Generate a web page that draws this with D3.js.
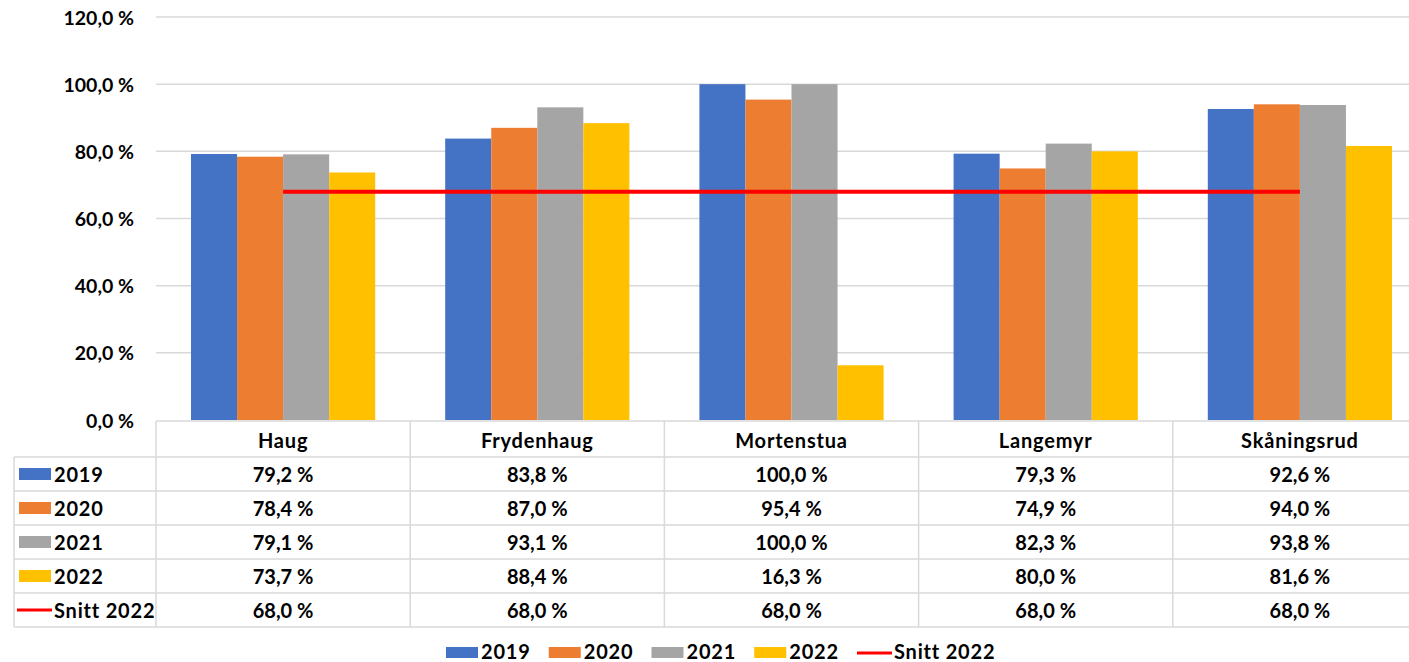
<!DOCTYPE html>
<html>
<head>
<meta charset="utf-8">
<script src="https://cdn.jsdelivr.net/npm/d3@7"></script>
<style>
  html, body { margin: 0; padding: 0; background: #fff; }
  svg text { font-family: Lato, "Open Sans", sans-serif; font-weight: 700; fill: #000; }
  svg text.word { letter-spacing: 0.8px; }
</style>
</head>
<body>
<div id="chart"></div>
<script>
var categories = ['Haug', 'Frydenhaug', 'Mortenstua', 'Langemyr', 'Skåningsrud']
var seriesNames = ['2019', '2020', '2021', '2022']
var values2019 = [79.2, 83.8, 100.0, 79.3, 92.6]
var values2020 = [78.4, 87.0, 95.4, 74.9, 94.0]
var values2021 = [79.1, 93.1, 100.0, 82.3, 93.8]
var values2022 = [73.7, 88.4, 16.3, 80.0, 81.6]
var snittName = 'Snitt 2022'
var snitt2022 = [68.0, 68.0, 68.0, 68.0, 68.0]
var yTicks = [0, 20, 40, 60, 80, 100, 120]

;(function() {
  var
    WIDTH = 1409,
    HEIGHT = 662,
    PLOT_LEFT = 156,
    PLOT_RIGHT = 1427,
    PLOT_TOP = 17,
    PLOT_BOTTOM = 420,
    TABLE_LEFT = 14,
    HEADER_H = 36,
    ROW_H = 34,
    FONT = 20,
    AXIS_FONT = 19.5,
    GRID = '#d9d9d9',
    colors = { '2019': '#4472C4', '2020': '#ED7D31', '2021': '#A5A5A5', '2022': '#FFC000' },
    RED = '#FF0000'

  var seriesValues = [values2019, values2020, values2021, values2022]
  var nb = d3.formatLocale({ decimal: ',', thousands: ' ', grouping: [3], currency: ['', ''] })
  var pct = function(v) { return nb.format('.1f')(v) + ' %' }

  var svg = d3.select('#chart').append('svg')
    .attr('width', WIDTH).attr('height', HEIGHT)

  var x = d3.scaleBand().domain(categories).range([PLOT_LEFT, PLOT_RIGHT])
  var x1 = d3.scaleBand().domain(seriesNames)
    .range([0, x.bandwidth()]).paddingOuter(0.76).paddingInner(0)
  var y = d3.scaleLinear().domain([0, 120]).range([PLOT_BOTTOM, PLOT_TOP])

  // gridlines + y labels
  var yAxis = svg.append('g')
  yAxis.selectAll('line').data(yTicks.slice(1)).enter().append('line')
    .attr('x1', PLOT_LEFT).attr('x2', WIDTH)
    .attr('y1', function(d) { return y(d) }).attr('y2', function(d) { return y(d) })
    .attr('stroke', GRID).attr('stroke-width', 1.5)
  yAxis.selectAll('text').data(yTicks).enter().append('text')
    .attr('x', 134).attr('y', function(d) { return y(d) })
    .attr('text-anchor', 'end').attr('dominant-baseline', 'central')
    .attr('font-size', AXIS_FONT)
    .text(pct)

  // bars
  var barG = svg.append('g')
  seriesNames.forEach(function(s, si) {
    barG.append('g').selectAll('rect')
      .data(seriesValues[si]).enter().append('rect')
      .attr('x', function(d, i) { return x(categories[i]) + x1(s) })
      .attr('width', x1.bandwidth())
      .attr('y', function(d) { return y(d) })
      .attr('height', function(d) { return y(0) - y(d) })
      .attr('fill', colors[s])
  })

  // snitt line
  var line = d3.line()
    .x(function(d, i) { return x(categories[i]) + x.bandwidth() / 2 })
    .y(function(d) { return y(d) })
  svg.append('path').datum(snitt2022)
    .attr('d', line).attr('fill', 'none')
    .attr('stroke', RED).attr('stroke-width', 4)

  // data table
  var table = svg.append('g')
  var rows = seriesNames.map(function(s, i) { return { name: s, values: seriesValues[i], key: 'rect' } })
  rows.push({ name: snittName, values: snitt2022, key: 'line' })
  var tableTop = PLOT_BOTTOM + 1
  var rowTop = function(i) { return tableTop + HEADER_H + i * ROW_H }
  var tableBottom = rowTop(rows.length)

  table.append('line')
    .attr('x1', PLOT_LEFT).attr('x2', WIDTH)
    .attr('y1', tableTop).attr('y2', tableTop)
    .attr('stroke', GRID).attr('stroke-width', 1.5)
  table.selectAll('.hline').data(d3.range(rows.length + 1)).enter().append('line')
    .attr('x1', TABLE_LEFT).attr('x2', WIDTH)
    .attr('y1', function(i) { return rowTop(i) }).attr('y2', function(i) { return rowTop(i) })
    .attr('stroke', GRID).attr('stroke-width', 1.5)
  table.selectAll('.vline').data(categories).enter().append('line')
    .attr('x1', function(d) { return x(d) }).attr('x2', function(d) { return x(d) })
    .attr('y1', tableTop).attr('y2', tableBottom)
    .attr('stroke', GRID).attr('stroke-width', 1.5)
  table.append('line')
    .attr('x1', TABLE_LEFT).attr('x2', TABLE_LEFT)
    .attr('y1', rowTop(0)).attr('y2', tableBottom)
    .attr('stroke', GRID).attr('stroke-width', 1.5)

  table.selectAll('.cat').data(categories).enter().append('text')
    .attr('class', 'word')
    .attr('x', function(d) { return x(d) + x.bandwidth() / 2 })
    .attr('y', tableTop + HEADER_H / 2 + 1)
    .attr('text-anchor', 'middle').attr('dominant-baseline', 'central')
    .attr('font-size', FONT)
    .text(function(d) { return d })

  rows.forEach(function(r, ri) {
    var cy = rowTop(ri) + ROW_H / 2
    if (r.key === 'rect') {
      table.append('rect').attr('x', 19).attr('y', cy - 6).attr('width', 32).attr('height', 12)
        .attr('fill', colors[r.name])
    } else {
      table.append('line').attr('x1', 17).attr('x2', 52).attr('y1', cy).attr('y2', cy)
        .attr('stroke', RED).attr('stroke-width', 3)
    }
    table.append('text').attr('class', 'word').attr('x', 54).attr('y', cy)
      .attr('dominant-baseline', 'central').attr('font-size', FONT)
      .text(r.name)
    table.append('g').selectAll('text').data(r.values).enter().append('text')
      .attr('x', function(d, i) { return x(categories[i]) + x.bandwidth() / 2 })
      .attr('y', cy)
      .attr('text-anchor', 'middle').attr('dominant-baseline', 'central')
      .attr('font-size', FONT)
      .text(pct)
  })

  // legend
  var legendItems = seriesNames.map(function(s) { return { name: s, key: 'rect' } })
  legendItems.push({ name: snittName, key: 'line' })
  var lx = d3.scalePoint().domain(legendItems.map(function(d) { return d.name }))
    .range([446, 857])
  var LEG_Y = 650
  var leg = svg.append('g').selectAll('g').data(legendItems).enter().append('g')
    .attr('transform', function(d) { return 'translate(' + lx(d.name) + ',' + LEG_Y + ')' })
  leg.filter(function(d) { return d.key === 'rect' }).append('rect')
    .attr('x', 0).attr('y', -3).attr('width', 32).attr('height', 11)
    .attr('fill', function(d) { return colors[d.name] })
  leg.filter(function(d) { return d.key === 'line' }).append('line')
    .attr('x1', 0).attr('x2', 35).attr('y1', 3).attr('y2', 3)
    .attr('stroke', RED).attr('stroke-width', 3)
  leg.append('text')
    .attr('class', 'word')
    .attr('x', function(d) { return d.key === 'rect' ? 35 : 37 })
    .attr('y', 1)
    .attr('dominant-baseline', 'central').attr('font-size', FONT)
    .text(function(d) { return d.name })
})()
</script>
</body>
</html>
